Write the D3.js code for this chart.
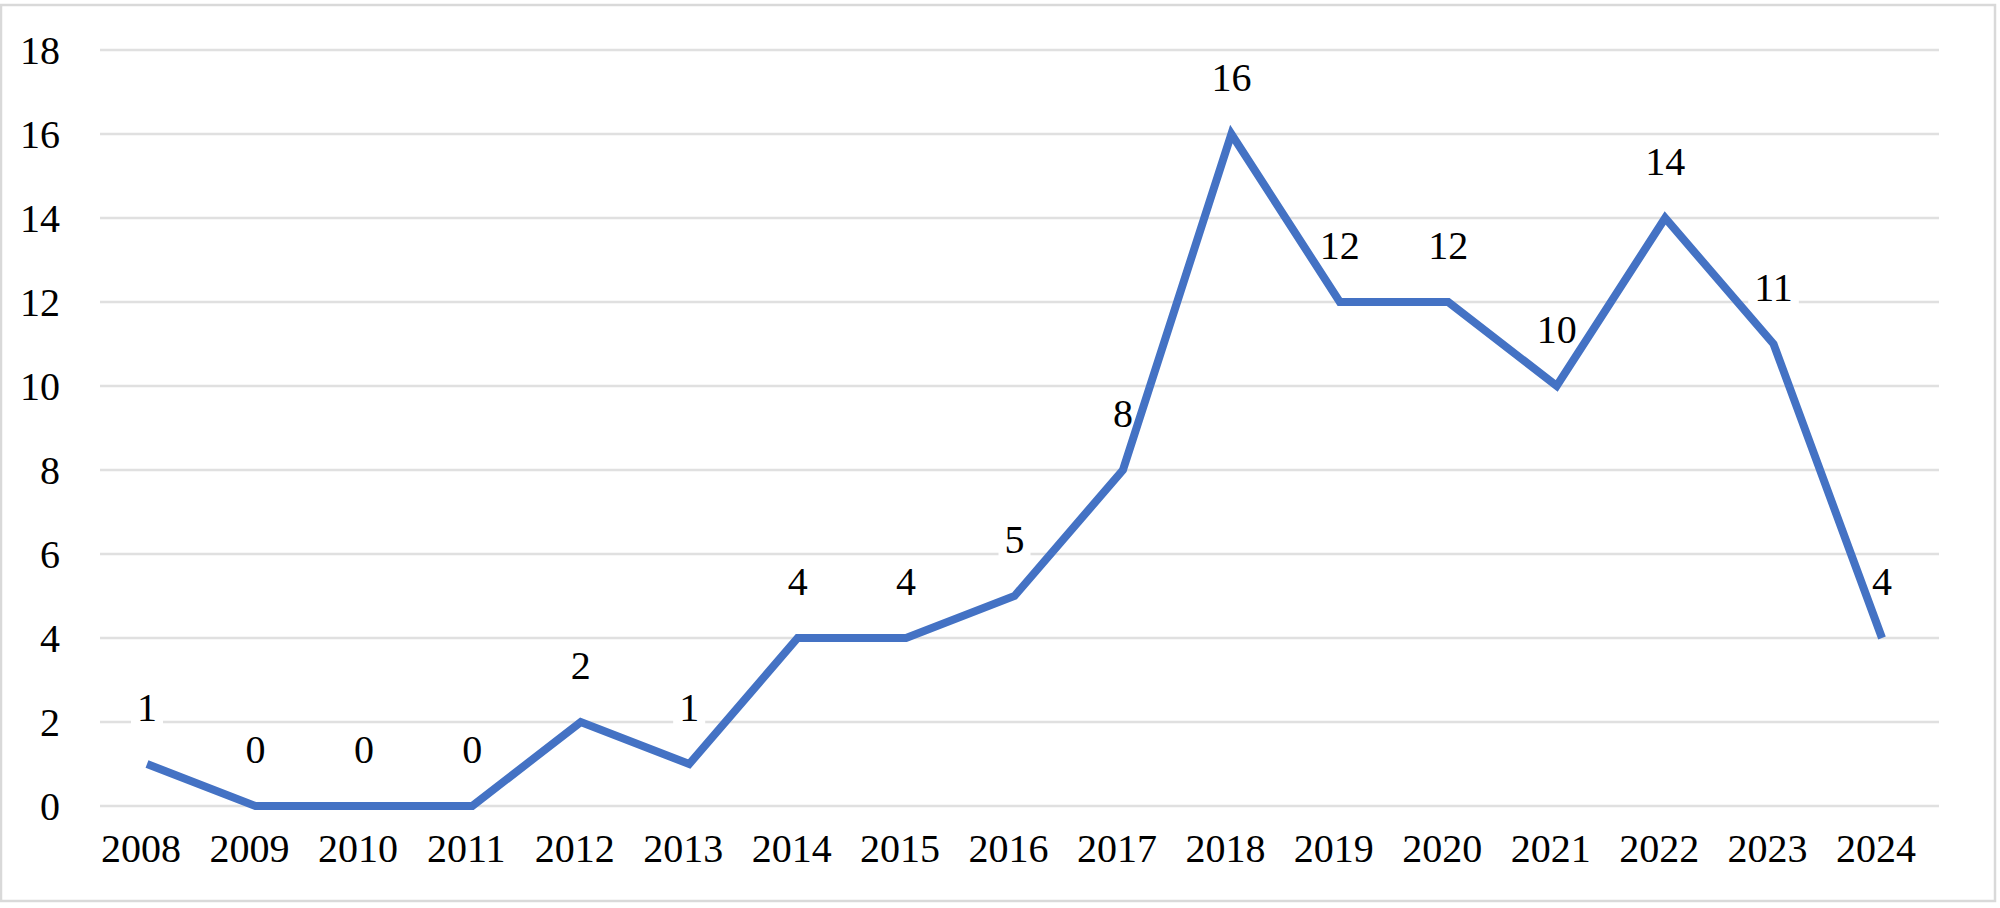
<!DOCTYPE html>
<html>
<head>
<meta charset="utf-8">
<script src="https://cdn.jsdelivr.net/npm/d3@7"></script>
<style>
  html, body { margin: 0; padding: 0; background: #fff; }
  svg { display: block; }
</style>
</head>
<body>
<svg id="chart"></svg>
<script>
var years = ["2008", "2009", "2010", "2011", "2012", "2013", "2014", "2015", "2016",
             "2017", "2018", "2019", "2020", "2021", "2022", "2023", "2024"];
var counts = [1, 0, 0, 0, 2, 1, 4, 4, 5, 8, 16, 12, 12, 10, 14, 11, 4];
var yTicks = [0, 2, 4, 6, 8, 10, 12, 14, 16, 18];

var width = 2000, height = 908;
var fontFamily = "'Liberation Serif', 'DejaVu Serif', serif";
var svg = d3.select("#chart")
  .attr("width", width).attr("height", height)
  .style("font-family", fontFamily);

// outer frame
svg.append("rect")
  .attr("x", 1).attr("y", 5)
  .attr("width", 1994).attr("height", 896)
  .attr("fill", "none")
  .attr("stroke", "#d9d9d9")
  .attr("stroke-width", 2.5);

var gridLeft = 100, gridRight = 1939;

var x = d3.scalePoint().domain(years).range([147, 1882]);
var y = d3.scaleLinear().domain([0, 18]).range([806, 50]);

// gridlines
svg.append("g").selectAll("line")
  .data(yTicks)
  .enter().append("line")
  .attr("x1", gridLeft).attr("x2", gridRight)
  .attr("y1", function(d) { return y(d); })
  .attr("y2", function(d) { return y(d); })
  .attr("stroke", "#e0e0e0")
  .attr("stroke-width", 2.5);

// y axis labels
svg.append("g").selectAll("text")
  .data(yTicks)
  .enter().append("text")
  .attr("x", 60)
  .attr("y", function(d) { return y(d); })
  .attr("dy", "0.35em")
  .attr("text-anchor", "end")
  .attr("font-family", fontFamily)
  .attr("font-size", 40)
  .text(function(d) { return d; });

// x axis labels
svg.append("g").selectAll("text")
  .data(years)
  .enter().append("text")
  .attr("x", function(d) { return x(d) - 6; })
  .attr("y", 862)
  .attr("text-anchor", "middle")
  .attr("font-family", fontFamily)
  .attr("font-size", 40)
  .text(function(d) { return d; });

// data labels (white box behind, text, then line on top)
var labels = svg.append("g").selectAll("g")
  .data(counts)
  .enter().append("g")
  .attr("transform", function(d, i) {
    return "translate(" + x(years[i]) + "," + (y(d) - 43) + ")";
  });

labels.append("text")
  .attr("text-anchor", "middle")
  .attr("font-family", fontFamily)
  .attr("font-size", 40)
  .text(function(d) { return d; });

labels.insert("rect", "text")
  .attr("fill", "#fff")
  .each(function() {
    var bb = this.parentNode.querySelector("text").getBBox();
    d3.select(this)
      .attr("x", bb.x - 6).attr("y", bb.y + 4)
      .attr("width", bb.width + 12).attr("height", bb.height - 6);
  });

var line = d3.line()
  .x(function(d, i) { return x(years[i]); })
  .y(function(d) { return y(d); });

svg.append("path")
  .datum(counts)
  .attr("d", line)
  .attr("fill", "none")
  .attr("stroke", "#4472c4")
  .attr("stroke-width", 8)
  .attr("stroke-linejoin", "miter");
</script>
</body>
</html>
